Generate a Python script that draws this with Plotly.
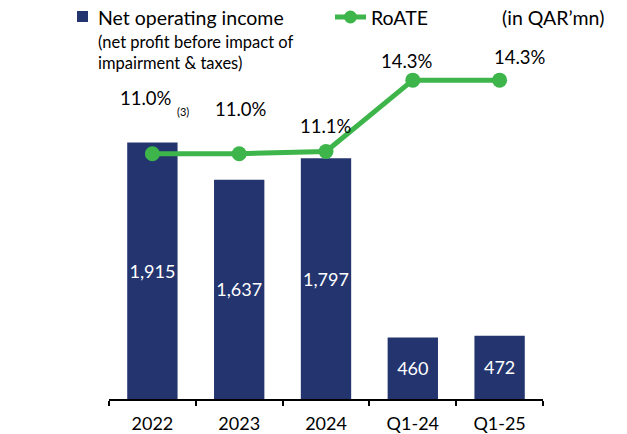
import plotly.graph_objects as go

categories = ["2022", "2023", "2024", "Q1-24", "Q1-25"]
net_operating_income = [1915, 1637, 1797, 460, 472]
roate = [11.0, 11.0, 11.1, 14.3, 14.3]
roate_labels = ["11.0%", "11.0%", "11.1%", "14.3%", "14.3%"]

NAVY = "#23346E"
GREEN = "#3DB54A"
FONT = "Lato, 'Open Sans', sans-serif"

L, R, T, B = 109, 84, 40, 35
W = 627 - L - R
H = 434 - T - B


def px(x):
    return (x - L) / W


def py(y):
    return 1 + (T - y) / H


fig = go.Figure()
fig.add_trace(go.Bar(
    x=categories, y=net_operating_income, name="Net operating income",
    marker=dict(color=NAVY, line=dict(width=0)), width=0.58,
    text=[f"{v:,}" for v in net_operating_income], textposition="inside",
    insidetextanchor="middle", textangle=0, constraintext="none",
    textfont=dict(color="white", size=18, family=FONT),
    showlegend=False,
))
fig.add_trace(go.Scatter(
    x=categories, y=roate, name="RoATE", mode="lines+markers",
    line=dict(color=GREEN, width=5), marker=dict(color=GREEN, size=15),
    yaxis="y2", showlegend=False,
))

# percentage labels (x given as category index)
shifts = [(-6, 56), (2, 45), (0, 25), (-6, 19), (20, 23)]
for i, (lab, v) in enumerate(zip(roate_labels, roate)):
    dx, dy = shifts[i]
    fig.add_annotation(x=i, y=v, xref="x", yref="y2", text=lab, showarrow=False,
                       xshift=dx, yshift=dy, font=dict(size=18.5, color="black", family=FONT))
fig.add_annotation(x=0, y=roate[0], xref="x", yref="y2", text="(3)", showarrow=False,
                   xshift=31, yshift=42, font=dict(size=11, color="black", family=FONT))

# legend (manual)
fig.add_shape(type="rect", xref="paper", yref="paper",
              x0=px(77), x1=px(88), y0=py(22), y1=py(11),
              fillcolor=NAVY, line=dict(width=0))
fig.add_annotation(xref="paper", yref="paper", x=px(96), y=py(17),
                   xanchor="left", yanchor="middle", showarrow=False, align="left",
                   text="Net operating income", font=dict(size=19.5, color="black", family=FONT))
fig.add_annotation(xref="paper", yref="paper", x=px(96), y=py(52),
                   xanchor="left", yanchor="middle", showarrow=False, align="left",
                   text="(net profit before impact of<br>impairment & taxes)",
                   font=dict(size=16.5, color="black", family=FONT))
fig.add_shape(type="line", xref="paper", yref="paper",
              x0=px(335), x1=px(366), y0=py(17), y1=py(17),
              line=dict(color=GREEN, width=5))
fig.add_shape(type="circle", xref="paper", yref="paper",
              x0=px(344), x1=px(357), y0=py(23.5), y1=py(10.5),
              fillcolor=GREEN, line=dict(width=0))
fig.add_annotation(xref="paper", yref="paper", x=px(369), y=py(17),
                   xanchor="left", yanchor="middle", showarrow=False,
                   text="RoATE", font=dict(size=19.5, color="black", family=FONT))
fig.add_annotation(xref="paper", yref="paper", x=px(500), y=py(17),
                   xanchor="left", yanchor="middle", showarrow=False,
                   text="(in QAR\u2019mn)", font=dict(size=19.5, color="black", family=FONT))

fig.update_layout(
    width=627, height=434,
    margin=dict(l=L, r=R, t=T, b=B, autoexpand=False),
    paper_bgcolor="white", plot_bgcolor="white",
    font=dict(family=FONT, color="black"),
    xaxis=dict(type="category", range=[-0.5, 4.5], showline=True, linecolor="black",
               linewidth=1.5, ticks="outside", tickson="boundaries", ticklen=5,
               tickcolor="black", tickwidth=1.5, showgrid=False, zeroline=False,
               ticklabelstandoff=8, automargin=False,
               tickfont=dict(size=18, color="black", family=FONT)),
    yaxis=dict(range=[0, 2680], visible=False, showgrid=False, zeroline=False),
    yaxis2=dict(range=[0, 16.1], overlaying="y", visible=False, showgrid=False,
                zeroline=False),
)

fig.write_html("out.html", config={"displayModeBar": False},
               post_script="document.body.style.margin='0';document.body.style.padding='0';")
